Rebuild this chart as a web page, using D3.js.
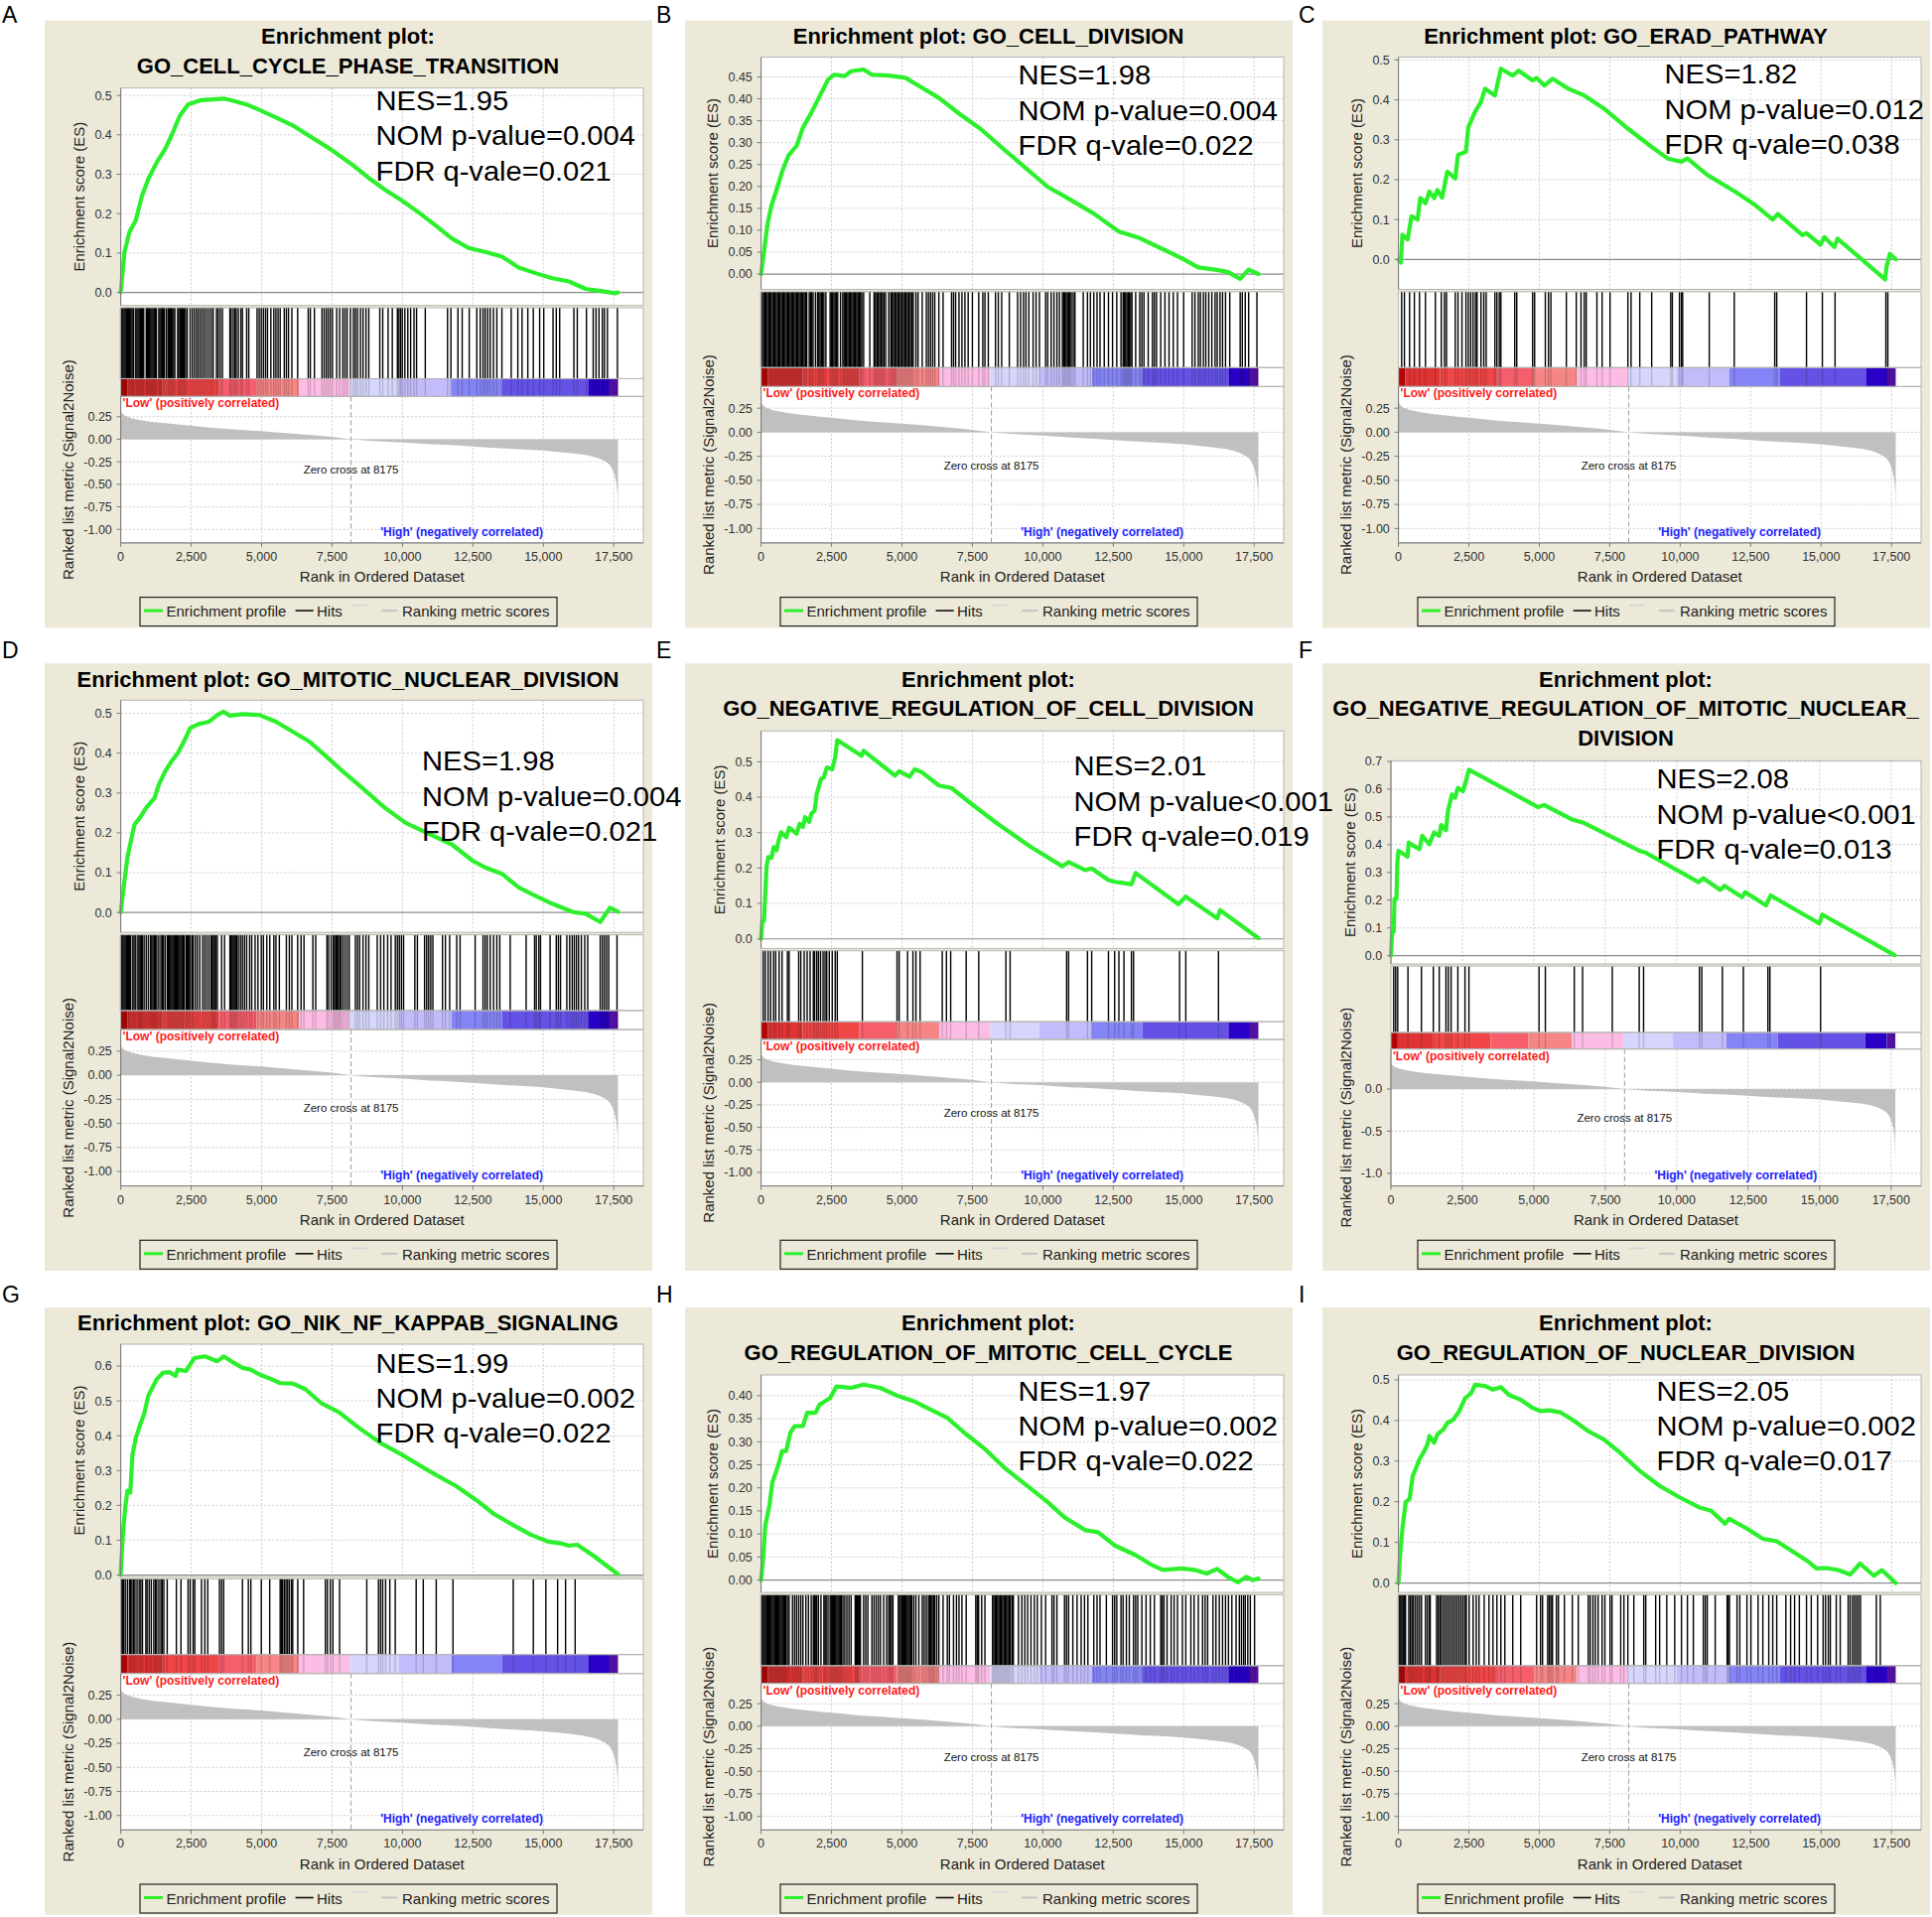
<!DOCTYPE html>
<html><head><meta charset="utf-8">
<script src="https://cdn.jsdelivr.net/npm/d3@7"></script>
<style>body{margin:0;background:#fff}</style>
</head><body>
<script>
// ---------------- DATA ----------------
const panelLabels = ["A","B","C","D","E","F","G","H","I"];
const titleLines = [
 ["Enrichment plot:","GO_CELL_CYCLE_PHASE_TRANSITION"],
 ["Enrichment plot: GO_CELL_DIVISION"],
 ["Enrichment plot: GO_ERAD_PATHWAY"],
 ["Enrichment plot: GO_MITOTIC_NUCLEAR_DIVISION"],
 ["Enrichment plot:","GO_NEGATIVE_REGULATION_OF_CELL_DIVISION"],
 ["Enrichment plot:","GO_NEGATIVE_REGULATION_OF_MITOTIC_NUCLEAR_","DIVISION"],
 ["Enrichment plot: GO_NIK_NF_KAPPAB_SIGNALING"],
 ["Enrichment plot:","GO_REGULATION_OF_MITOTIC_CELL_CYCLE"],
 ["Enrichment plot:","GO_REGULATION_OF_NUCLEAR_DIVISION"]
];
const nesValues = ["1.95","1.98","1.82","1.98","2.01","2.08","1.99","1.97","2.05"];
const nomPValues = ["=0.004","=0.004","=0.012","=0.004","<0.001","<0.001","=0.002","=0.002","=0.002"];
const fdrQValues = ["0.021","0.022","0.038","0.021","0.019","0.013","0.022","0.022","0.017"];

const rankTicks = [0,2500,5000,7500,10000,12500,15000,17500];
const esTicks = [
 [0,0.1,0.2,0.3,0.4,0.5],
 [0,0.05,0.1,0.15,0.2,0.25,0.3,0.35,0.4,0.45],
 [0,0.1,0.2,0.3,0.4,0.5],
 [0,0.1,0.2,0.3,0.4,0.5],
 [0,0.1,0.2,0.3,0.4,0.5],
 [0,0.1,0.2,0.3,0.4,0.5,0.6,0.7],
 [0,0.1,0.2,0.3,0.4,0.5,0.6],
 [0,0.05,0.1,0.15,0.2,0.25,0.3,0.35,0.4],
 [0,0.1,0.2,0.3,0.4,0.5]
];
const esTickDecimals = [1,2,1,1,1,1,1,2,1];
const esDomains = [[-0.033,0.519],[-0.035,0.495],[-0.075,0.507],[-0.05,0.533],[-0.027,0.587],[-0.03,0.7025],[-0.004,0.663],[-0.027,0.445],[-0.023,0.512]];
const metricTicksStd = [0.25,0,-0.25,-0.5,-0.75,-1];
const metricTicksCoarse = [0,-0.5,-1];
const metricDomain = [-1.15,0.475];
const zeroCross = 8175;

const metricCurve = [[0,0.31],[40,0.29],[150,0.26],[400,0.232],[800,0.207],[1200,0.19],[1600,0.178],[2000,0.165],[2500,0.15],[3000,0.135],[3500,0.121],[4000,0.11],[4500,0.1],[5000,0.09],[5500,0.078],[6000,0.066],[6500,0.053],[7000,0.04],[7500,0.026],[8175,0],[8600,-0.012],[9000,-0.02],[9500,-0.027],[10000,-0.035],[10500,-0.045],[11000,-0.055],[11500,-0.062],[12000,-0.07],[12500,-0.08],[13000,-0.09],[13500,-0.1],[14000,-0.107],[14500,-0.115],[15000,-0.125],[15500,-0.14],[16000,-0.155],[16500,-0.175],[16800,-0.195],[17000,-0.215],[17200,-0.245],[17350,-0.28],[17450,-0.33],[17530,-0.4],[17590,-0.48],[17630,-0.6],[17645,-0.8],[17650,-1.07]];

const bandEnds = [235,1480,3490,4810,6330,8130,9870,11740,13540,16590,17350,17650];
const bandColors = ["#c00808","#e03434","#f04646","#f65e6c","#f68686","#fcbce4","#d6d6fc","#c2bcfa","#8484f6","#6452e6","#2800c6","#5010a0"];

const esCurveA = [[0,0],[134,0.103],[312,0.154],[535,0.183],[757,0.246],[980,0.288],[1277,0.33],[1574,0.364],[1797,0.397],[2094,0.448],[2391,0.477],[2837,0.488],[3283,0.49],[3654,0.492],[4025,0.486],[4545,0.475],[4991,0.461],[5511,0.444],[6105,0.424],[6699,0.397],[7442,0.364],[8184,0.326],[8778,0.292],[9372,0.261],[9966,0.234],[10560,0.204],[11154,0.171],[11748,0.137],[12343,0.113],[12937,0.103],[13531,0.091],[14125,0.063],[14719,0.049],[15313,0.036],[15907,0.028],[16501,0.009],[17095,0.003],[17541,-0.002],[17650,0]];
const esCurveB = [[0,0],[104,0.051],[223,0.112],[371,0.157],[564,0.195],[743,0.233],[965,0.27],[1263,0.293],[1485,0.334],[1782,0.368],[2079,0.406],[2377,0.444],[2600,0.455],[2971,0.452],[3193,0.463],[3639,0.467],[3936,0.455],[4530,0.453],[5124,0.448],[5718,0.425],[6313,0.402],[7055,0.365],[7798,0.331],[8540,0.289],[9283,0.248],[10174,0.199],[10917,0.172],[11808,0.138],[12699,0.097],[13442,0.082],[14184,0.059],[14927,0.036],[15521,0.015],[16115,0.01],[16561,0.005],[17006,-0.011],[17303,0.01],[17650,0]];
const esCurveC = [[0,0],[85,-0.008],[141,0.062],[324,0.05],[465,0.108],[676,0.1],[775,0.154],[958,0.141],[1099,0.17],[1268,0.154],[1381,0.174],[1550,0.155],[1733,0.22],[2015,0.203],[2113,0.262],[2395,0.27],[2480,0.332],[2719,0.37],[2930,0.395],[3071,0.428],[3423,0.411],[3635,0.478],[4057,0.461],[4269,0.473],[4762,0.449],[4903,0.455],[5184,0.436],[5466,0.453],[6030,0.428],[6593,0.411],[7298,0.378],[8143,0.328],[8988,0.282],[9552,0.253],[10045,0.245],[10256,0.253],[10960,0.212],[11946,0.17],[12651,0.137],[13285,0.1],[13468,0.114],[14342,0.061],[14483,0.066],[14976,0.037],[15117,0.056],[15469,0.031],[15581,0.052],[16314,0.008],[17272,-0.05],[17328,-0.017],[17441,0.014],[17650,0]];
const esCurveD = [[0,0],[119,0.072],[238,0.138],[386,0.188],[490,0.221],[683,0.238],[906,0.263],[1203,0.288],[1352,0.321],[1574,0.354],[1797,0.379],[2020,0.4],[2243,0.429],[2466,0.463],[2763,0.473],[3134,0.479],[3431,0.496],[3654,0.504],[3877,0.494],[4322,0.498],[4916,0.496],[5511,0.479],[6105,0.454],[6699,0.429],[7293,0.392],[7887,0.354],[8630,0.309],[9372,0.263],[10115,0.225],[10857,0.2],[11748,0.171],[12491,0.13],[12937,0.113],[13531,0.097],[14125,0.063],[14719,0.042],[15313,0.022],[16056,0.001],[16501,-0.003],[17021,-0.024],[17363,0.012],[17650,0.002]];
const esCurveE = [[0,0],[45,0.051],[104,0.051],[149,0.128],[193,0.203],[252,0.231],[371,0.229],[446,0.259],[550,0.25],[624,0.278],[713,0.301],[891,0.287],[995,0.314],[1263,0.297],[1366,0.325],[1485,0.316],[1560,0.344],[1708,0.33],[1782,0.353],[1901,0.362],[1975,0.409],[2124,0.451],[2228,0.456],[2332,0.484],[2525,0.479],[2629,0.512],[2703,0.561],[3565,0.517],[3639,0.531],[4753,0.461],[4902,0.473],[5273,0.458],[5451,0.479],[5718,0.47],[6313,0.433],[6758,0.426],[7501,0.379],[8392,0.325],[9580,0.259],[10694,0.205],[10917,0.217],[11511,0.194],[11734,0.199],[12328,0.166],[12551,0.161],[12848,0.158],[13145,0.154],[13294,0.186],[14809,0.098],[15076,0.119],[16190,0.058],[16294,0.081],[17650,0.002]];
const esCurveF = [[0,0],[42,0.086],[97,0.086],[125,0.205],[194,0.205],[222,0.33],[263,0.378],[443,0.366],[582,0.357],[623,0.408],[790,0.396],[998,0.384],[1095,0.432],[1344,0.402],[1510,0.444],[1690,0.432],[1760,0.471],[1926,0.452],[1995,0.521],[2134,0.581],[2245,0.569],[2342,0.605],[2522,0.593],[2591,0.617],[2730,0.67],[5154,0.535],[5362,0.543],[6332,0.491],[6748,0.479],[8688,0.378],[8896,0.372],[10766,0.265],[10932,0.279],[11528,0.237],[11667,0.252],[12290,0.211],[12401,0.229],[13122,0.181],[13288,0.217],[14992,0.116],[15089,0.148],[17625,0.002]];
const esCurveG = [[0,0],[15,0.03],[89,0.129],[163,0.195],[238,0.242],[342,0.237],[416,0.346],[535,0.393],[683,0.43],[832,0.463],[980,0.515],[1129,0.539],[1277,0.562],[1500,0.581],[1723,0.583],[1946,0.572],[2020,0.59],[2317,0.586],[2466,0.605],[2614,0.623],[2985,0.628],[3431,0.614],[3654,0.628],[4025,0.609],[4322,0.595],[4619,0.59],[4916,0.576],[5362,0.562],[5659,0.551],[6105,0.55],[6550,0.534],[7144,0.492],[7738,0.468],[8481,0.421],[9224,0.379],[9966,0.346],[10560,0.317],[11154,0.289],[11897,0.256],[12640,0.214],[13234,0.176],[13828,0.148],[14571,0.115],[15165,0.096],[15610,0.091],[15907,0.084],[16204,0.087],[16798,0.054],[17650,0.002]];
const esCurveH = [[0,0],[74,0.047],[149,0.118],[297,0.162],[401,0.212],[520,0.233],[639,0.255],[743,0.28],[891,0.28],[1040,0.32],[1188,0.334],[1485,0.334],[1634,0.363],[1931,0.363],[2079,0.381],[2451,0.395],[2674,0.42],[3193,0.417],[3639,0.424],[4233,0.417],[4753,0.402],[5421,0.388],[6015,0.37],[6610,0.352],[7204,0.32],[7946,0.284],[8689,0.241],[9432,0.205],[10174,0.169],[10769,0.136],[11511,0.108],[11957,0.104],[12551,0.075],[13294,0.054],[13888,0.032],[14259,0.022],[14927,0.025],[15373,0.022],[15819,0.014],[16190,0.024],[16561,0.007],[16932,-0.005],[17229,0.007],[17452,0],[17650,0.003]];
const esCurveI = [[0,0],[56,0.068],[141,0.134],[254,0.199],[394,0.207],[507,0.264],[606,0.28],[747,0.305],[888,0.321],[1028,0.341],[1099,0.362],[1268,0.345],[1381,0.366],[1592,0.378],[1733,0.394],[1944,0.402],[2155,0.423],[2367,0.455],[2578,0.467],[2719,0.488],[3071,0.485],[3353,0.476],[3635,0.482],[3917,0.463],[4339,0.451],[4762,0.431],[5043,0.423],[5325,0.425],[5748,0.42],[6171,0.402],[6734,0.374],[7298,0.353],[7861,0.321],[8565,0.276],[9270,0.239],[9974,0.211],[10679,0.186],[11101,0.178],[11594,0.146],[11735,0.158],[12369,0.134],[12933,0.109],[13426,0.103],[13919,0.081],[14483,0.056],[14835,0.036],[15187,0.037],[15609,0.032],[16032,0.021],[16384,0.048],[16877,0.018],[17159,0.032],[17650,0]];

const hitsA = [0,40,80,120,160,200,240,280,320,360,400,440,460,535,575,615,655,695,735,775,815,905,945,985,1025,1065,1105,1145,1185,1225,1265,1350,1390,1430,1470,1510,1550,1620,1680,1720,1760,1800,1840,1880,1920,2020,2060,2100,2140,2180,2220,2260,2300,2360,2465,2540,2615,2690,2760,2835,2910,2985,3060,3135,3210,3280,3400,3460,3535,3610,3875,3920,3995,4055,4100,4175,4265,4320,4470,4545,4840,4915,4990,5065,5140,5210,5330,5435,5510,5585,5660,5805,5880,5955,6075,6280,6655,6730,6875,7145,7220,7295,7365,7440,7515,7665,7770,7885,7960,8035,8155,8260,8330,8405,8510,8600,8705,8805,9195,9300,9490,9640,9820,9875,9935,9995,10085,10190,10290,10410,10500,10810,11600,11720,11970,12120,12370,12640,12760,12860,12935,13025,13115,13230,13350,13530,13860,14095,14245,14450,14645,14870,15015,15345,15460,15580,16085,16205,16530,16770,16870,16975,17095,17170,17275,17630];
const hitsB = [0,45,90,135,180,225,270,315,360,405,450,495,540,585,630,675,720,765,810,855,900,945,990,1035,1080,1125,1170,1215,1260,1305,1350,1395,1440,1485,1530,1575,1620,1710,1755,1800,1845,1930,2005,2050,2095,2140,2185,2230,2300,2450,2495,2540,2585,2630,2675,2720,2820,2900,2945,2990,3035,3080,3125,3170,3215,3260,3305,3350,3395,3440,3485,3530,3575,3640,3860,4010,4060,4110,4160,4210,4260,4310,4360,4420,4530,4605,4650,4700,4750,4800,4850,4900,4950,5000,5050,5100,5150,5200,5250,5300,5350,5400,5495,5570,5720,5865,5940,6015,6090,6165,6310,6460,6760,6830,6905,7025,7130,7235,7350,7500,7725,7870,7945,8065,8320,8420,8540,8810,9105,9210,9315,9400,9505,9655,9760,9880,10100,10175,10295,10395,10500,10590,10695,10740,10785,10830,10875,10920,10965,11010,11080,11140,11435,11585,11690,11810,11925,12030,12180,12330,12475,12625,12775,12850,12895,12940,12985,13030,13075,13120,13165,13295,13440,13515,13590,13740,13890,13960,14035,14185,14335,14480,14630,14780,15000,15300,15400,15520,15595,15700,15785,15890,16000,16115,16190,16290,16380,16485,16635,17005,17080,17185,17305,17600];
const hitsC = [113,211,394,564,747,958,1310,1521,1634,1705,2015,2113,2254,2395,2480,2564,2649,2733,2789,2930,3029,3113,3423,3494,3578,3635,4128,4198,4762,4832,5213,5325,5410,5959,6311,6480,6593,6664,7044,7227,7509,8143,8256,8565,8988,9664,9721,9974,10045,10087,11031,11918,13355,13426,14483,15046,15497,17300,17370];
const hitsD = [0,40,80,120,160,200,240,280,310,355,430,475,535,610,650,690,730,770,830,905,980,1055,1100,1145,1190,1235,1280,1350,1425,1470,1515,1575,1650,1690,1730,1770,1810,1850,1890,1930,1970,2010,2050,2090,2130,2170,2210,2245,2315,2355,2395,2440,2475,2540,2570,2645,2720,2805,2910,2985,3060,3135,3210,3250,3290,3330,3370,3430,3580,3685,3875,3915,3955,3995,4035,4075,4115,4175,4250,4320,4395,4470,4575,4650,4770,4870,4990,5065,5185,5290,5435,5510,5630,5880,5985,6075,6280,6400,6505,6820,6920,7320,7380,7470,7545,7590,7635,7680,7725,7770,7815,7885,7960,8035,8110,8330,8405,8480,8600,8705,8805,9105,9225,9340,9475,9595,9745,9820,9890,9965,10040,10440,10530,10785,10860,10930,11005,11080,11420,11525,11675,11925,12045,12580,12860,12935,13010,13115,13235,13350,13455,13825,14390,14690,14750,14840,14900,15240,15460,15535,15610,15835,15935,16025,16100,16175,16250,16350,16470,16575,17020,17095,17170,17245,17320,17615];
const hitsE = [75,150,250,340,445,520,640,745,935,995,1335,1410,1530,1635,1740,1855,1900,1975,2035,2110,2200,2270,2330,2420,2525,2630,2705,3595,4825,4900,5200,5390,5495,5645,6430,6580,6730,7280,7725,8690,8840,10845,10915,11585,11735,12330,12550,12700,12880,13145,13220,14855,15075,16235];
const hitsF = [97,166,236,596,1067,1483,1690,1926,2009,2106,2342,2591,2730,5182,5404,6415,6706,7745,8688,8840,10794,10877,11597,12332,13191,13260,15034];
const hitsG = [15,59,104,163,238,312,356,401,460,505,579,654,713,772,891,936,1010,1084,1173,1233,1277,1352,1426,1470,1530,1649,1975,2139,2391,2466,2570,2629,2867,2985,3089,3505,3580,3654,4322,4530,4619,4991,5288,5659,5704,5748,5808,5867,5926,5986,6060,6105,6283,6491,7263,7337,7442,7531,7768,8734,9149,9224,9298,9402,9551,9744,10486,10739,11199,11793,13932,14645,15091,15507,15789,16130];
const hitsH = [0,40,80,120,160,200,240,280,320,360,400,440,480,520,560,600,640,680,720,760,800,840,880,935,995,1115,1190,1260,1335,1410,1485,1590,1680,1780,1855,1900,1945,1975,2035,2125,2230,2270,2310,2375,2450,2490,2530,2570,2610,2650,2690,2730,2770,2810,2850,2905,2970,3045,3120,3195,3340,3380,3420,3460,3490,3525,3640,3715,3790,3935,4010,4085,4160,4235,4350,4455,4530,4580,4630,4680,4870,4910,4950,4990,5030,5070,5110,5150,5190,5230,5270,5310,5350,5420,5495,5600,5720,5790,5865,5940,5985,6030,6075,6120,6165,6235,6310,6460,6610,6685,6830,6935,7025,7130,7280,7620,7670,7720,7830,7945,8215,8260,8305,8350,8395,8440,8485,8530,8575,8620,8665,8710,8755,8800,8845,8905,8955,9135,9255,9360,9460,9580,9700,9805,9950,10100,10325,10395,10500,10770,10840,10915,11065,11215,11360,11480,11600,11810,11925,12030,12255,12475,12550,12625,12775,12850,12965,13070,13220,13295,13370,13515,13665,13815,13960,14185,14240,14300,14410,14555,14660,14780,14955,15075,15255,15370,15520,15670,15760,15850,16040,16145,16265,16380,16485,16590,16710,16860,16975,17050,17125,17185,17275,17365,17515];
const hitsI = [0,40,80,120,160,200,250,366,423,479,535,606,676,747,817,958,1028,1099,1127,1352,1409,1465,1521,1592,1662,1733,1803,1874,1944,2015,2085,2155,2226,2296,2367,2409,2508,2649,2761,2860,3043,3212,3353,3494,3635,3776,4057,4339,4903,5043,5114,5297,5353,5410,5466,5607,5677,5889,6171,6382,6734,6804,6903,6988,7086,7227,7326,7509,7579,7889,8002,8143,8354,8706,8777,9129,9270,9523,9805,10045,10256,10467,10820,10890,10960,11242,11665,11707,11749,12017,12116,12369,12510,12764,12933,13144,13285,13426,13750,13919,14060,14229,14483,14652,14877,15074,15159,15257,15328,15539,15680,15962,16032,16117,16187,16258,16328,16399,16962,17103];

const esCurves = [esCurveA,esCurveB,esCurveC,esCurveD,esCurveE,esCurveF,esCurveG,esCurveH,esCurveI];
const hitSets = [hitsA,hitsB,hitsC,hitsD,hitsE,hitsF,hitsG,hitsH,hitsI];

// ---------------- LAYOUT ----------------
const FONT = "'Liberation Sans', Arial, Helvetica, sans-serif";
const W = 1946, H = 1931;
const colLeft = [45, 690, 1332];
const rowTop = [20.6, 668.3, 1317];
const labelX = [2, 661, 1308];
const labelY = [23.3, 663.3, 1312];
const statsPos = [[257,22.4],[259,27.7],[268,26.7],[303.5,71],[315,45],[267.5,28],[257,28.7],[259,25.7],[260,25.7]];

const svg = d3.select("body").append("svg").attr("width", W).attr("height", H)
  .attr("font-family", FONT);
svg.append("rect").attr("width", W).attr("height", H).attr("fill", "#fff");
const panelLayer = svg.append("g");
const topLayer = svg.append("g");
const minusFix = s => s.replace(/\u2212/g, "-");

panelLabels.forEach((lab, i) => {
  const col = i % 3, row = Math.floor(i / 3);
  const px = colLeft[col], py = rowTop[row];
  const g = panelLayer.append("g");
  g.append("rect").attr("x", px).attr("y", py).attr("width", 612).attr("height", 611.7).attr("fill", "#ECE9D8");
  topLayer.append("text").attr("x", labelX[col]).attr("y", labelY[row]).attr("font-size", 23).text(lab);

  const tl = titleLines[i];
  tl.forEach((t, k) => g.append("text").attr("x", px + 305.5).attr("y", py + 23.3 + 29.7 * k)
    .attr("text-anchor", "middle").attr("font-weight", "bold").attr("font-size", 22).attr("fill", "#000").text(t));

  const coarse = (i === 5);
  const left = px + (coarse ? 69 : 76.6), right = px + 603;
  const top = py + [37, 68, 98][tl.length - 1], bottom = py + 526.3;
  const Ht = bottom - top;
  const esB = top + 0.478 * Ht, hitsT = top + 0.483 * Ht, colT = top + 0.639 * Ht, metT = top + 0.678 * Ht;

  const x = d3.scaleLinear().domain([0, 18550]).range([left, right]);
  const yE = d3.scaleLinear().domain(esDomains[i]).range([esB, top]);
  const yM = d3.scaleLinear().domain(metricDomain).range([bottom, metT]);
  const mTicks = coarse ? metricTicksCoarse : metricTicksStd;

  [[top, esB], [hitsT, metT], [metT, bottom]].forEach(([a, b]) =>
    g.append("rect").attr("x", left).attr("y", a).attr("width", right - left).attr("height", b - a).attr("fill", "#fff"));

  // grid
  const grid = g.append("g").attr("stroke", "#cccccc").attr("stroke-width", 1).attr("stroke-dasharray", "2,2");
  rankTicks.slice(1).forEach(r => {
    grid.append("line").attr("x1", x(r)).attr("x2", x(r)).attr("y1", top).attr("y2", esB);
    grid.append("line").attr("x1", x(r)).attr("x2", x(r)).attr("y1", metT).attr("y2", bottom);
  });
  esTicks[i].forEach(v => { if (v !== 0) grid.append("line").attr("x1", left).attr("x2", right).attr("y1", yE(v)).attr("y2", yE(v)); });
  mTicks.forEach(v => grid.append("line").attr("x1", left).attr("x2", right).attr("y1", yM(v)).attr("y2", yM(v)));

  // metric area
  g.append("path").datum(metricCurve)
    .attr("d", d3.area().x(d => x(d[0])).y0(yM(0)).y1(d => yM(d[1])))
    .attr("fill", "#c0c0c0");
  g.append("line").attr("x1", x(zeroCross)).attr("x2", x(zeroCross)).attr("y1", metT).attr("y2", bottom)
    .attr("stroke", "#9a9a9a").attr("stroke-width", 1).attr("stroke-dasharray", "5,3");

  // colour bar
  let prev = 0;
  bandEnds.forEach((e, k) => {
    g.append("rect").attr("x", x(prev)).attr("y", colT).attr("width", x(e) - x(prev)).attr("height", metT - colT).attr("fill", bandColors[k]);
    prev = e;
  });
  // hits
  const hg = g.append("g");
  hitSets[i].forEach(r => {
    hg.append("line").attr("x1", x(r)).attr("x2", x(r)).attr("y1", hitsT).attr("y2", colT).attr("stroke", "#000").attr("stroke-width", 1.4);
    hg.append("line").attr("x1", x(r)).attr("x2", x(r)).attr("y1", colT).attr("y2", metT).attr("stroke", "#000").attr("stroke-opacity", 0.16).attr("stroke-width", 1.4);
  });

  // ES zero line and curve
  g.append("line").attr("x1", left).attr("x2", right).attr("y1", yE(0)).attr("y2", yE(0)).attr("stroke", "#8a8a8a").attr("stroke-width", 1.2);
  g.append("path").datum(esCurves[i])
    .attr("d", d3.line().x(d => x(d[0])).y(d => yE(d[1])))
    .attr("fill", "none").attr("stroke", "#2cf02c").attr("stroke-width", 4.2).attr("stroke-linejoin", "round").attr("stroke-linecap", "round");

  // borders
  [[top, esB], [hitsT, colT], [colT, metT], [metT, bottom]].forEach(([a, b]) =>
    g.append("rect").attr("x", left).attr("y", a).attr("width", right - left).attr("height", b - a)
      .attr("fill", "none").attr("stroke", "#b4b4b4").attr("stroke-width", 1));
  g.append("line").attr("x1", left).attr("x2", left).attr("y1", top).attr("y2", esB).attr("stroke", "#7a7a7a");
  g.append("line").attr("x1", left).attr("x2", left).attr("y1", metT).attr("y2", bottom).attr("stroke", "#7a7a7a");
  g.append("line").attr("x1", left).attr("x2", right).attr("y1", bottom).attr("y2", bottom).attr("stroke", "#7a7a7a");

  // ES ticks
  const fmt = d3.format("." + esTickDecimals[i] + "f");
  const etg = g.append("g").attr("font-size", 12.5).attr("fill", "#333");
  esTicks[i].forEach(v => {
    g.append("line").attr("x1", left - 4).attr("x2", left).attr("y1", yE(v)).attr("y2", yE(v)).attr("stroke", "#7a7a7a");
    etg.append("text").attr("x", left - 8.8).attr("y", yE(v)).attr("dy", "0.35em").attr("text-anchor", "end").text(minusFix(fmt(v)));
  });
  // metric ticks
  const mfmt = d3.format(coarse ? ".1f" : ".2f");
  const mtg = g.append("g").attr("font-size", 12.5).attr("fill", "#333");
  mTicks.forEach(v => {
    g.append("line").attr("x1", left - 4).attr("x2", left).attr("y1", yM(v)).attr("y2", yM(v)).attr("stroke", "#7a7a7a");
    mtg.append("text").attr("x", left - 8.8).attr("y", yM(v)).attr("dy", "0.35em").attr("text-anchor", "end").text(minusFix(mfmt(v)));
  });
  // x ticks
  rankTicks.forEach(r => {
    g.append("line").attr("x1", x(r)).attr("x2", x(r)).attr("y1", bottom).attr("y2", bottom + 4).attr("stroke", "#7a7a7a");
    g.append("text").attr("x", x(r)).attr("y", bottom + 18).attr("text-anchor", "middle").attr("font-size", 12.5).attr("fill", "#333").text(d3.format(",")(r));
  });
  g.append("text").attr("x", (left + right) / 2).attr("y", bottom + 39.5).attr("text-anchor", "middle").attr("font-size", 15).attr("fill", "#222").text("Rank in Ordered Dataset");

  // axis labels
  const eb = etg.node().getBBox(), mb = mtg.node().getBBox();
  const ecx = eb.x - 15.3, mcx = mb.x - 15.3;
  g.append("text").attr("transform", `translate(${ecx},${(top + esB) / 2}) rotate(-90)`).attr("dy", "0.35em")
    .attr("text-anchor", "middle").attr("font-size", 15).attr("fill", "#222").text("Enrichment score (ES)");
  g.append("text").attr("transform", `translate(${mcx},${(metT + bottom) / 2}) rotate(-90)`).attr("dy", "0.35em")
    .attr("text-anchor", "middle").attr("font-size", 15).attr("fill", "#222").text("Ranked list metric (Signal2Noise)");

  // metric annotations
  g.append("text").attr("x", left + 2).attr("y", metT + 11).attr("font-size", 12).attr("font-weight", "bold").attr("fill", "#ff1a1a").text("'Low' (positively correlated)");
  g.append("text").attr("x", x(9220)).attr("y", bottom - 7).attr("font-size", 12).attr("font-weight", "bold").attr("fill", "#2222ff").text("'High' (negatively correlated)");
  g.append("text").attr("x", x(zeroCross)).attr("y", yM(-0.385)).attr("text-anchor", "middle").attr("font-size", 11.5).attr("fill", "#111").text("Zero cross at " + zeroCross);

  // stats (top layer so that it can overhang the neighbouring panel, as in the figure)
  const [sdx, sdy] = statsPos[i];
  const statLines = ["NES=" + nesValues[i], "NOM p-value" + nomPValues[i], "FDR q-vale=" + fdrQValues[i]];
  statLines.forEach((s, k) => topLayer.append("text")
    .attr("transform", `translate(${left + sdx},${top + sdy + 35.3 * k}) scale(1.04,1)`)
    .attr("font-size", 28).attr("fill", "#000").text(s));

  // legend
  const lx = px + 96, ly = py + 581;
  g.append("rect").attr("x", lx).attr("y", ly).attr("width", 420).attr("height", 29).attr("fill", "#ECE9D8").attr("stroke", "#222").attr("stroke-width", 1.2);
  g.append("line").attr("x1", lx + 4).attr("x2", lx + 23).attr("y1", ly + 13.5).attr("y2", ly + 13.5).attr("stroke", "#2cf02c").attr("stroke-width", 3);
  g.append("text").attr("x", lx + 26.5).attr("y", ly + 19.5).attr("font-size", 15).attr("fill", "#222").text("Enrichment profile");
  g.append("line").attr("x1", lx + 156.6).attr("x2", lx + 174.7).attr("y1", ly + 13.5).attr("y2", ly + 13.5).attr("stroke", "#111").attr("stroke-width", 1.6);
  g.append("text").attr("x", lx + 178).attr("y", ly + 19.5).attr("font-size", 15).attr("fill", "#222").text("Hits");
  g.append("line").attr("x1", lx + 213).attr("x2", lx + 229).attr("y1", ly + 8).attr("y2", ly + 8).attr("stroke", "#d4d4d4").attr("stroke-width", 1.5);
  g.append("line").attr("x1", lx + 243).attr("x2", lx + 259).attr("y1", ly + 13.5).attr("y2", ly + 13.5).attr("stroke", "#c4c4c4").attr("stroke-width", 2);
  g.append("text").attr("x", lx + 264).attr("y", ly + 19.5).attr("font-size", 15).attr("fill", "#222").text("Ranking metric scores");
});
</script>
</body></html>
